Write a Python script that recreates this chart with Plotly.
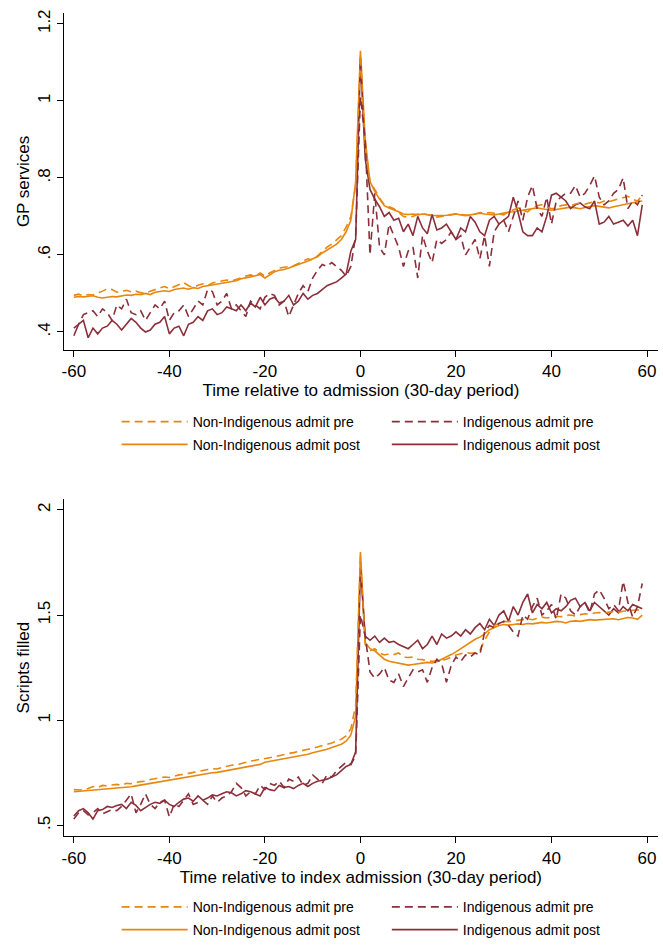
import plotly.graph_objects as go

# ---------------- data ----------------
periods = list(range(-60, 60))

x_ticks = [-60, -40, -20, 0, 20, 40, 60]
x_tick_text = ["-60", "-40", "-20", "0", "20", "40", "60"]

gp_ticks = [0.4, 0.6, 0.8, 1.0, 1.2]
gp_tick_text = [".4", ".6", ".8", "1", "1.2"]

sc_ticks = [0.5, 1.0, 1.5, 2.0]
sc_tick_text = [".5", "1", "1.5", "2"]

series_names = ["Non-Indigenous admit pre", "Indigenous admit pre",
                "Non-Indigenous admit post", "Indigenous admit post"]

# GP services
gp_nonind_pre = [
    0.495, 0.498, 0.494, 0.497, 0.496, 0.500, 0.506, 0.512, 0.510, 0.503,
    0.505, 0.508, 0.504, 0.506, 0.502, 0.500, 0.506, 0.510, 0.514, 0.518,
    0.512, 0.517, 0.522, 0.528, 0.520, 0.516, 0.521, 0.525, 0.520, 0.527,
    0.530, 0.533, 0.535, 0.532, 0.537, 0.541, 0.545, 0.548, 0.544, 0.553,
    0.545, 0.553, 0.560, 0.566, 0.568, 0.570, 0.572, 0.578, 0.583, 0.590,
    0.586, 0.597, 0.610, 0.620, 0.628, 0.640, 0.650, 0.672, 0.700, 0.780,
    1.120, 0.880, 0.790, 0.770, 0.748, 0.730, 0.725, 0.720, 0.710, 0.700,
    0.698, 0.700, 0.706, 0.708, 0.704, 0.700, 0.698, 0.700, 0.704, 0.705,
    0.707, 0.705, 0.703, 0.702, 0.706, 0.710, 0.708, 0.710, 0.708, 0.706,
    0.704, 0.712, 0.718, 0.722, 0.716, 0.712, 0.722, 0.728, 0.730, 0.726,
    0.720, 0.722, 0.728, 0.730, 0.728, 0.732, 0.735, 0.732, 0.736, 0.738,
    0.735, 0.740, 0.738, 0.742, 0.745, 0.748, 0.752, 0.744, 0.740, 0.755]
gp_nonind_post = [
    0.490, 0.492, 0.491, 0.493, 0.494, 0.490, 0.488, 0.490, 0.492, 0.491,
    0.494, 0.496, 0.495, 0.498, 0.497, 0.500, 0.497, 0.503, 0.505, 0.507,
    0.505, 0.510, 0.512, 0.514, 0.511, 0.515, 0.513, 0.518, 0.520, 0.522,
    0.524, 0.526, 0.529, 0.531, 0.533, 0.538, 0.540, 0.543, 0.546, 0.549,
    0.540, 0.548, 0.556, 0.560, 0.562, 0.566, 0.570, 0.576, 0.580, 0.584,
    0.590, 0.595, 0.605, 0.612, 0.620, 0.628, 0.640, 0.660, 0.690, 0.790,
    1.130, 0.900, 0.790, 0.765, 0.745, 0.728, 0.722, 0.718, 0.712, 0.706,
    0.705, 0.706, 0.704, 0.706, 0.704, 0.703, 0.702, 0.702, 0.703, 0.704,
    0.706, 0.704, 0.702, 0.704, 0.706, 0.708, 0.706, 0.705, 0.704, 0.706,
    0.709, 0.711, 0.712, 0.714, 0.716, 0.718, 0.720, 0.722, 0.720, 0.718,
    0.716, 0.718, 0.720, 0.722, 0.724, 0.722, 0.720, 0.723, 0.726, 0.728,
    0.726, 0.724, 0.722, 0.725, 0.728, 0.730, 0.732, 0.736, 0.738, 0.740]
gp_ind_pre = [
    0.410, 0.420, 0.445, 0.450, 0.455, 0.440, 0.460, 0.450, 0.430, 0.470,
    0.460, 0.485, 0.450, 0.445, 0.455, 0.430, 0.450, 0.470, 0.460, 0.480,
    0.430, 0.450, 0.455, 0.470, 0.440, 0.460, 0.480, 0.470, 0.510, 0.505,
    0.470, 0.480, 0.500, 0.460, 0.470, 0.455, 0.440, 0.480, 0.470, 0.460,
    0.490, 0.500, 0.495, 0.470, 0.480, 0.440, 0.470, 0.500, 0.520, 0.505,
    0.540, 0.560, 0.575, 0.570, 0.580, 0.570, 0.560, 0.545, 0.570, 0.650,
    1.010, 0.900, 0.600, 0.760, 0.620, 0.600, 0.680, 0.650, 0.620, 0.570,
    0.610, 0.620, 0.540, 0.650, 0.610, 0.580, 0.640, 0.630, 0.640, 0.660,
    0.640, 0.650, 0.600, 0.620, 0.640, 0.590, 0.650, 0.570, 0.660, 0.680,
    0.690, 0.660, 0.700, 0.740, 0.690, 0.750, 0.780, 0.720, 0.700, 0.750,
    0.680, 0.740, 0.750, 0.760, 0.760, 0.780, 0.750, 0.760, 0.780, 0.805,
    0.750, 0.730, 0.740, 0.760, 0.770, 0.800, 0.720, 0.740, 0.730, 0.755]
gp_ind_post = [
    0.390, 0.420, 0.430, 0.385, 0.410, 0.395, 0.410, 0.415, 0.430, 0.420,
    0.405, 0.420, 0.435, 0.425, 0.410, 0.400, 0.405, 0.420, 0.425, 0.440,
    0.395, 0.410, 0.415, 0.390, 0.420, 0.425, 0.440, 0.430, 0.455, 0.460,
    0.445, 0.450, 0.465, 0.460, 0.455, 0.470, 0.455, 0.475, 0.465, 0.490,
    0.470, 0.485, 0.490, 0.475, 0.480, 0.495, 0.470, 0.480, 0.500, 0.485,
    0.495, 0.500, 0.510, 0.520, 0.525, 0.530, 0.540, 0.550, 0.610, 0.640,
    1.110, 0.850, 0.770, 0.745, 0.725, 0.700, 0.710, 0.690, 0.695, 0.660,
    0.680, 0.650, 0.700, 0.670, 0.655, 0.705, 0.665, 0.670, 0.680, 0.660,
    0.640, 0.670, 0.660, 0.700, 0.685, 0.660, 0.650, 0.690, 0.700, 0.680,
    0.690, 0.700, 0.750, 0.710, 0.660, 0.650, 0.650, 0.670, 0.660, 0.700,
    0.755, 0.760, 0.750, 0.740, 0.720, 0.730, 0.735, 0.725, 0.720, 0.740,
    0.680, 0.685, 0.700, 0.680, 0.685, 0.690, 0.675, 0.690, 0.650, 0.730]

# Scripts filled
sc_nonind_pre = [
    0.670, 0.668, 0.670, 0.675, 0.685, 0.680, 0.690, 0.688, 0.692, 0.695,
    0.690, 0.700, 0.698, 0.705, 0.708, 0.710, 0.718, 0.722, 0.726, 0.730,
    0.728, 0.735, 0.740, 0.742, 0.748, 0.752, 0.756, 0.762, 0.766, 0.770,
    0.768, 0.776, 0.782, 0.786, 0.788, 0.795, 0.800, 0.806, 0.810, 0.815,
    0.818, 0.822, 0.826, 0.832, 0.838, 0.842, 0.846, 0.852, 0.856, 0.862,
    0.866, 0.872, 0.878, 0.884, 0.892, 0.900, 0.910, 0.925, 0.960, 1.070,
    1.780, 1.360, 1.330, 1.340, 1.320, 1.310, 1.315, 1.312, 1.320, 1.300,
    1.298, 1.300, 1.290, 1.288, 1.282, 1.280, 1.282, 1.285, 1.290, 1.300,
    1.310, 1.316, 1.322, 1.318, 1.320, 1.330, 1.380, 1.420, 1.450, 1.460,
    1.470, 1.468, 1.472, 1.476, 1.480, 1.482, 1.478, 1.485, 1.490, 1.486,
    1.490, 1.494, 1.492, 1.498, 1.500, 1.495, 1.502, 1.506, 1.504, 1.510,
    1.512, 1.508, 1.514, 1.516, 1.512, 1.518, 1.520, 1.522, 1.525, 1.520]
sc_nonind_post = [
    0.660, 0.662, 0.664, 0.667, 0.668, 0.670, 0.671, 0.672, 0.674, 0.676,
    0.678, 0.680, 0.684, 0.688, 0.692, 0.696, 0.700, 0.705, 0.709, 0.713,
    0.716, 0.719, 0.722, 0.726, 0.730, 0.734, 0.738, 0.742, 0.746, 0.750,
    0.752, 0.756, 0.760, 0.764, 0.768, 0.772, 0.776, 0.780, 0.784, 0.790,
    0.800, 0.804, 0.808, 0.812, 0.816, 0.820, 0.824, 0.830, 0.834, 0.838,
    0.845, 0.850, 0.856, 0.862, 0.870, 0.878, 0.886, 0.900, 0.930, 1.020,
    1.800, 1.370, 1.340, 1.330, 1.310, 1.290, 1.280, 1.275, 1.270, 1.268,
    1.262, 1.265, 1.268, 1.270, 1.275, 1.272, 1.278, 1.290, 1.300, 1.312,
    1.325, 1.340, 1.355, 1.370, 1.385, 1.395, 1.410, 1.430, 1.440, 1.450,
    1.455, 1.452, 1.455, 1.458, 1.455, 1.460, 1.458, 1.462, 1.465, 1.462,
    1.465, 1.470, 1.468, 1.462, 1.470, 1.472, 1.470, 1.475, 1.478, 1.476,
    1.478, 1.480, 1.480, 1.482, 1.478, 1.484, 1.488, 1.486, 1.480, 1.500]
sc_ind_pre = [
    0.530, 0.560, 0.570, 0.550, 0.560, 0.580, 0.555, 0.565, 0.575, 0.570,
    0.590, 0.620, 0.650, 0.560, 0.600, 0.650, 0.600, 0.580, 0.610, 0.620,
    0.540, 0.600, 0.590, 0.620, 0.650, 0.600, 0.610, 0.620, 0.600, 0.640,
    0.610, 0.630, 0.640, 0.660, 0.700, 0.680, 0.640, 0.660, 0.650, 0.690,
    0.670, 0.700, 0.690, 0.710, 0.680, 0.720, 0.710, 0.730, 0.690, 0.700,
    0.740, 0.720, 0.700, 0.740, 0.730, 0.760, 0.780, 0.800, 0.790, 0.830,
    1.500, 1.400, 1.230, 1.200, 1.220, 1.250, 1.190, 1.180, 1.220, 1.160,
    1.200, 1.240, 1.230, 1.240, 1.180, 1.250, 1.290, 1.270, 1.180, 1.260,
    1.300, 1.280, 1.310, 1.300, 1.320, 1.310, 1.420, 1.450, 1.440, 1.460,
    1.470, 1.450, 1.420, 1.400, 1.500, 1.480, 1.540, 1.580, 1.500, 1.520,
    1.550, 1.480, 1.600, 1.580, 1.520, 1.500, 1.540, 1.560, 1.510, 1.600,
    1.620, 1.580, 1.530, 1.550, 1.520, 1.660, 1.560, 1.490, 1.540, 1.650]
sc_ind_post = [
    0.545, 0.570, 0.580, 0.560, 0.530, 0.570, 0.575, 0.590, 0.585, 0.595,
    0.600, 0.580, 0.610, 0.595, 0.570, 0.585, 0.600, 0.610, 0.605, 0.620,
    0.600, 0.590, 0.610, 0.625, 0.630, 0.615, 0.640, 0.620, 0.630, 0.645,
    0.640, 0.650, 0.660, 0.655, 0.640, 0.650, 0.665, 0.660, 0.650, 0.640,
    0.680, 0.670, 0.665, 0.690, 0.680, 0.685, 0.675, 0.690, 0.700, 0.685,
    0.700, 0.710, 0.715, 0.720, 0.730, 0.740, 0.760, 0.780, 0.790, 0.850,
    1.720, 1.400, 1.380, 1.400, 1.370, 1.390, 1.370, 1.375, 1.360, 1.350,
    1.340, 1.360, 1.380, 1.340, 1.360, 1.400, 1.360, 1.410, 1.390, 1.400,
    1.420, 1.400, 1.430, 1.410, 1.440, 1.460, 1.430, 1.480, 1.450, 1.500,
    1.520, 1.470, 1.540, 1.500, 1.560, 1.600, 1.510, 1.550, 1.530, 1.560,
    1.510, 1.530, 1.520, 1.540, 1.570, 1.580, 1.540, 1.560, 1.520, 1.560,
    1.540, 1.520, 1.500, 1.530, 1.510, 1.540, 1.520, 1.550, 1.540, 1.530]

# ---------------- style ----------------
ORANGE = "#E8870E"
MAROON = "#8B2F3A"
FONT = "Liberation Sans, Arial, sans-serif"
W, H = 663, 946

fig = go.Figure()

panels = [
    ("x", "y", [gp_nonind_pre, gp_ind_pre, gp_nonind_post, gp_ind_post],
     ["legend", "legend2", "legend3", "legend4"]),
    ("x2", "y2", [sc_nonind_pre, sc_ind_pre, sc_nonind_post, sc_ind_post],
     ["legend5", "legend6", "legend7", "legend8"]),
]
colors = [ORANGE, MAROON, ORANGE, MAROON]
dashes = ["8px,5px", "8px,5px", "solid", "solid"]

for xa, ya, data, legs in panels:
    for i in [2, 3, 0, 1]:
        fig.add_trace(go.Scatter(
            x=periods, y=data[i], mode="lines", name=series_names[i],
            line=dict(color=colors[i], width=1.6, dash=dashes[i]),
            xaxis=xa, yaxis=ya, legend=legs[i], showlegend=True,
            hoverinfo="skip"))

def px_x(p):
    return p / W

def px_y(p):
    return 1 - p / H

axis_common = dict(showline=True, linecolor="black", linewidth=1.3,
                   ticks="outside", ticklen=6, tickwidth=1.3, tickcolor="black",
                   showgrid=False, zeroline=False, mirror=False,
                   tickfont=dict(family=FONT, size=17, color="black"))
title_font = dict(family=FONT, size=17, color="black")

xdom = [px_x(62), px_x(658)]
fig.update_layout(
    xaxis=dict(domain=xdom, range=[-62.1, 62.3], anchor="y",
               tickvals=x_ticks, ticktext=x_tick_text,
               title=dict(text="Time relative to admission (30-day period)",
                          font=title_font, standoff=2),
               **axis_common),
    yaxis=dict(domain=[px_y(349), px_y(9.3)], range=[0.354, 1.2274], anchor="x",
               tickvals=gp_ticks, ticktext=gp_tick_text, tickangle=-90,
               title=dict(text="GP services", font=title_font, standoff=0),
               **axis_common),
    xaxis2=dict(domain=xdom, range=[-62.1, 62.3], anchor="y2",
                tickvals=x_ticks, ticktext=x_tick_text,
                title=dict(text="Time relative to index admission (30-day period)",
                           font=title_font, standoff=3),
                **axis_common),
    yaxis2=dict(domain=[px_y(840), px_y(500)], range=[0.4496, 2.0504], anchor="x2",
                tickvals=sc_ticks, ticktext=sc_tick_text, tickangle=-90,
                title=dict(text="Scripts filled", font=title_font, standoff=0),
                **axis_common),
    width=W, height=H,
    margin=dict(l=0, r=0, t=0, b=0),
    paper_bgcolor="white", plot_bgcolor="white",
    showlegend=True,
)

leg_rows = [(422, 445), (912, 935)]
leg_cols = [115, 386]
leg_ids = [["legend", "legend2", "legend3", "legend4"],
           ["legend5", "legend6", "legend7", "legend8"]]
legend_layout = {}
for (r1, r2), ids in zip(leg_rows, leg_ids):
    pos = [(leg_cols[0], r1), (leg_cols[1], r1), (leg_cols[0], r2), (leg_cols[1], r2)]
    for lid, (lx, ly) in zip(ids, pos):
        legend_layout[lid] = dict(
            x=px_x(lx), y=px_y(ly), xanchor="left", yanchor="middle",
            xref="paper", yref="paper", bgcolor="rgba(0,0,0,0)",
            borderwidth=0, itemwidth=66, tracegroupgap=0,
            font=dict(family=FONT, size=14, color="black"),
            itemclick=False, itemdoubleclick=False)
fig.update_layout(**legend_layout)

fig.write_html("out.html")
